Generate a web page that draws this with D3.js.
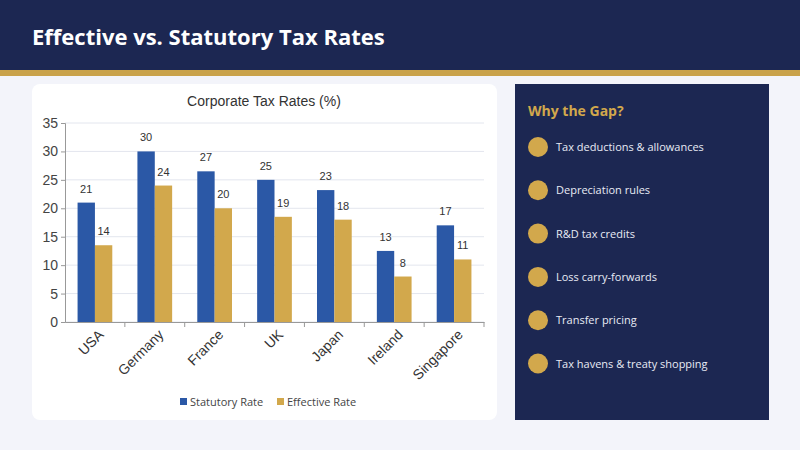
<!DOCTYPE html>
<meta charset="utf-8">
<style>
    body { margin: 0; background: #f3f4fa; }
    svg { display: block; }
</style>
<body>
<script src="https://d3js.org/d3.v7.min.js"></script>
<script>
    var countries = ["USA", "Germany", "France", "UK", "Japan", "Ireland", "Singapore"];
    var statutory = [21, 30, 26.5, 25, 23.2, 12.5, 17];
    var effective = [13.5, 24, 20, 18.5, 18, 8, 11];
    var yTicks = [0, 5, 10, 15, 20, 25, 30, 35];
    var reasons = ["Tax deductions & allowances", "Depreciation rules", "R&D tax credits",
        "Loss carry-forwards", "Transfer pricing", "Tax havens & treaty shopping"];

    var navy = "#1c2752", gold = "#d2a84c", blue = "#2b58a6";

    var svg = d3.select("body").append("svg")
        .attr("width", 800).attr("height", 450);

    svg.append("rect").attr("width", 800).attr("height", 450).attr("fill", "#f3f4fa");

    // header
    svg.append("rect").attr("width", 800).attr("height", 70).attr("fill", navy);
    svg.append("rect").attr("y", 70).attr("width", 800).attr("height", 6).attr("fill", "#c9a24a");
    svg.append("text").attr("x", 32).attr("y", 45)
        .attr("fill", "#fff").style("font", "bold 22px 'Open Sans', sans-serif")
        .text("Effective vs. Statutory Tax Rates");

    // chart card
    svg.append("rect").attr("x", 32).attr("y", 84).attr("width", 465).attr("height", 336)
        .attr("rx", 8).attr("fill", "#fff");

    svg.append("text").attr("x", 264).attr("y", 106).attr("text-anchor", "middle")
        .attr("fill", "#333").style("font", "14px 'Liberation Sans', Arial, sans-serif")
        .text("Corporate Tax Rates (%)");

    var x = d3.scaleBand().domain(countries).range([65, 484]).paddingInner(0.42).paddingOuter(0.21);
    var y = d3.scaleLinear().domain([0, 35]).range([322, 123]);

    var g = svg.append("g");
    g.selectAll(".grid").data(yTicks).enter().append("line")
        .attr("x1", 65).attr("x2", 484)
        .attr("y1", function(d) { return y(d); }).attr("y2", function(d) { return y(d); })
        .attr("stroke", "#e3e6ee");

    var yAxis = g.append("g").attr("transform", "translate(65,0)")
        .call(d3.axisLeft(y).tickValues(yTicks).tickSize(4));
    yAxis.selectAll("text").attr("fill", "#444").style("font", "14px 'Liberation Sans', Arial, sans-serif");
    yAxis.selectAll("line,path").attr("stroke", "#999");

    var xAxis = g.append("g").attr("transform", "translate(0,322)")
        .call(d3.axisBottom(x).tickSize(0).tickPadding(8));
    xAxis.select("path").attr("stroke", "#999");
    xAxis.selectAll(".tick").append("line").attr("x1", x.step() / 2).attr("x2", x.step() / 2)
        .attr("y2", 5).attr("stroke", "#999");
    xAxis.selectAll("text").attr("fill", "#333")
        .style("font", "14px 'Liberation Sans', Arial, sans-serif")
        .attr("text-anchor", "end").attr("transform", "rotate(-45)")
        .attr("dx", "-0.2em").attr("dy", "0.6em");

    var bw = x.bandwidth() / 2;
    var series = [{ vals: statutory, color: blue, off: 0 }, { vals: effective, color: gold, off: bw }];
    series.forEach(function(s) {
        g.selectAll(null).data(countries).enter().append("rect")
            .attr("x", function(d) { return x(d) + s.off; })
            .attr("y", function(d, i) { return y(s.vals[i]); })
            .attr("width", bw)
            .attr("height", function(d, i) { return y(0) - y(s.vals[i]); })
            .attr("fill", s.color);
        g.selectAll(null).data(countries).enter().append("text")
            .attr("x", function(d) { return x(d) + s.off + bw / 2; })
            .attr("y", function(d, i) { return y(s.vals[i]) - 10; })
            .attr("text-anchor", "middle").attr("fill", "#333")
            .style("font", "11px 'Liberation Sans', Arial, sans-serif")
            .text(function(d, i) { return Math.round(s.vals[i]); });
    });

    // legend
    var legend = [["Statutory Rate", blue, 180], ["Effective Rate", gold, 277]];
    legend.forEach(function(l) {
        svg.append("rect").attr("x", l[2]).attr("y", 398).attr("width", 7).attr("height", 7).attr("fill", l[1]);
        svg.append("text").attr("x", l[2] + 10).attr("y", 406).attr("fill", "#444")
            .style("font", "11px 'Open Sans', sans-serif").text(l[0]);
    });

    // side panel
    svg.append("rect").attr("x", 515).attr("y", 84).attr("width", 254).attr("height", 336)
        .attr("fill", navy);
    svg.append("text").attr("x", 528).attr("y", 116).attr("fill", gold)
        .style("font", "bold 14px 'Open Sans', sans-serif").text("Why the Gap?");
    var items = svg.selectAll(".item").data(reasons).enter().append("g")
        .attr("transform", function(d, i) { return "translate(0," + (147 + i * 43.3) + ")"; });
    items.append("circle").attr("cx", 538).attr("r", 10).attr("fill", gold);
    items.append("text").attr("x", 556).attr("y", 4).attr("fill", "#e8ebf5")
        .style("font", "11px 'Open Sans', sans-serif").text(function(d) { return d; });
</script>
</body>
